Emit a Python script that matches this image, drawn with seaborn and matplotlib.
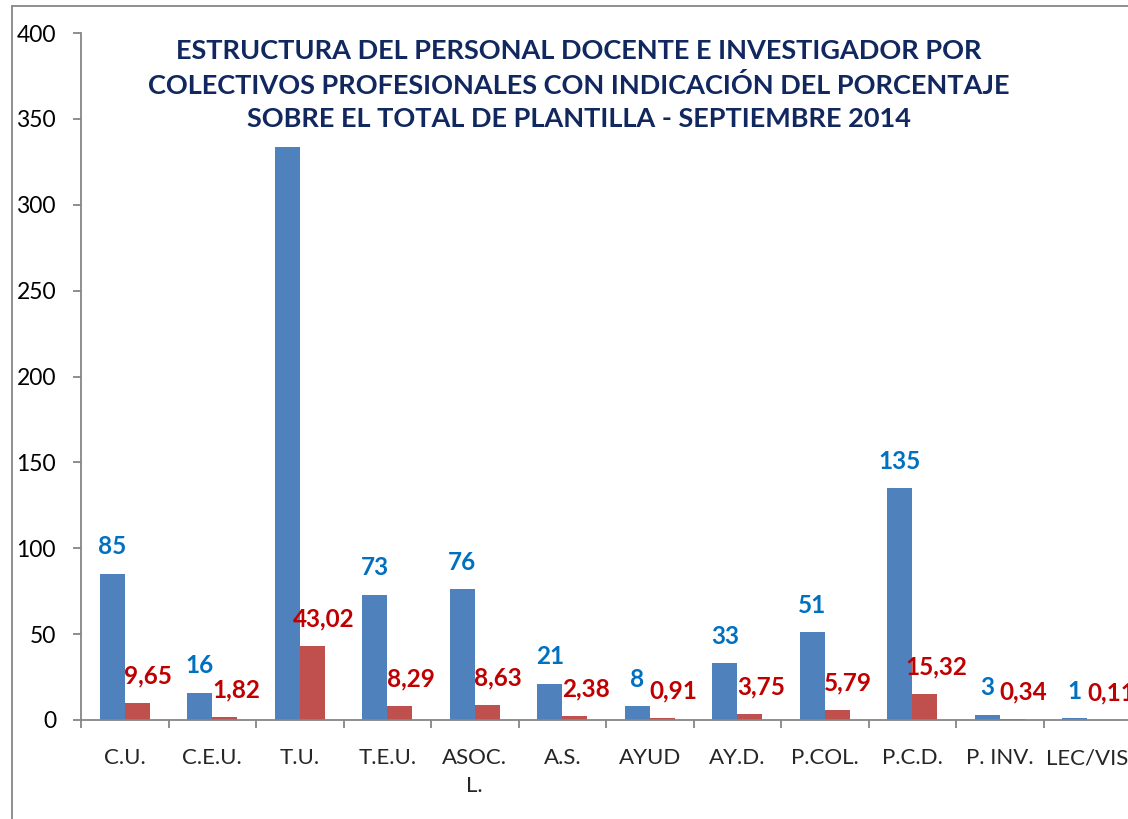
import matplotlib
matplotlib.use("Agg")
import matplotlib.pyplot as plt
import seaborn as sns
import pandas as pd
from matplotlib.patches import Rectangle
from matplotlib.lines import Line2D

categories = ["C.U.", "C.E.U.", "T.U.", "T.E.U.", "ASOC.\nL.", "A.S.", "AYUD", "AY.D.", "P.COL.", "P.C.D.", "P. INV.", "LEC/VIS"]
counts = [85, 16, 379, 73, 76, 21, 8, 33, 51, 135, 3, 1]
percents = [9.65, 1.82, 43.02, 8.29, 8.63, 2.38, 0.91, 3.75, 5.79, 15.32, 0.34, 0.11]
series_names = ["Nº", "%"]
title = ("ESTRUCTURA DEL PERSONAL DOCENTE E INVESTIGADOR POR\n"
         "COLECTIVOS PROFESIONALES CON INDICACIÓN DEL PORCENTAJE\n"
         "SOBRE EL TOTAL DE PLANTILLA - SEPTIEMBRE 2014")

BLUE, RED = "#4F81BD", "#C0504D"
BLUE_TXT, RED_TXT = "#0070C0", "#C00000"
GRAY = "#868686"

df = pd.DataFrame({
    "cat": categories * 2,
    "serie": [series_names[0]] * len(categories) + [series_names[1]] * len(categories),
    "val": counts + percents,
})

sns.set_style("white")
plt.rcParams["font.family"] = ["Lato", "DejaVu Sans"]

fig = plt.figure(figsize=(11.28, 8.19), dpi=100)
ax = fig.add_axes([81 / 1128, 99 / 819, 1050 / 1128, 687 / 819])

sns.barplot(data=df, x="cat", y="val", hue="serie", palette=[BLUE, RED],
            width=0.5714, saturation=1, ax=ax, legend=False, edgecolor="none")

ax.set_xlim(-0.5, len(categories) - 0.5)
ax.set_ylim(0, 400)
ax.set_yticks(range(0, 401, 50))
ax.set_xlabel("")
ax.set_ylabel("")

for s in ["top", "right"]:
    ax.spines[s].set_visible(False)
for s in ["left", "bottom"]:
    ax.spines[s].set_color(GRAY)
    ax.spines[s].set_linewidth(1.3)

ax.tick_params(axis="y", which="both", left=True, length=6, width=1.3, color=GRAY,
               labelsize=16.5, pad=12, labelcolor="black")
ax.set_xticks(range(len(categories)))
ax.set_xticklabels(categories, fontsize=16, va="top", linespacing=1.5)
ax.tick_params(axis="x", which="major", bottom=False, pad=17)
ax.set_xticks([i + 0.5 for i in range(-1, len(categories))], minor=True)
ax.tick_params(axis="x", which="minor", bottom=True, length=6, width=1.3, color=GRAY)

# data labels
bw = 0.5714 / 2
for i, (c, p) in enumerate(zip(counts, percents)):
    ax.annotate(f"{c}", (i - bw / 2, c), xytext=(0, 19.5), textcoords="offset points",
                ha="center", va="center", fontsize=17.5, fontweight="bold", color=BLUE_TXT)
    ax.annotate(f"{p:.2f}".replace(".", ","), (i + bw / 2, p), xytext=(8, 19.5),
                textcoords="offset points", ha="center", va="center", fontsize=17.5,
                fontweight="bold", color=RED_TXT)

# title box (white, covering the top of the chart)
fig.patches.append(Rectangle((140 / 1128, 1 - 147 / 819), 880 / 1128, 125 / 819,
                             transform=fig.transFigure, facecolor="white",
                             edgecolor="none", zorder=5))
fig.text(579 / 1128, 1 - 85 / 819, title, ha="center", va="center", fontsize=19.5,
         fontweight="bold", color="#10275F", linespacing=1.45, zorder=6)

# outer chart border
fig.add_artist(Line2D([11.5 / 1128, 11.5 / 1128], [0, 1 - 5.5 / 819], transform=fig.transFigure,
                      color=GRAY, lw=1.3))
fig.add_artist(Line2D([11.5 / 1128, 1], [1 - 5.5 / 819, 1 - 5.5 / 819], transform=fig.transFigure,
                      color=GRAY, lw=1.3))

fig.savefig("out.png", dpi=100)
